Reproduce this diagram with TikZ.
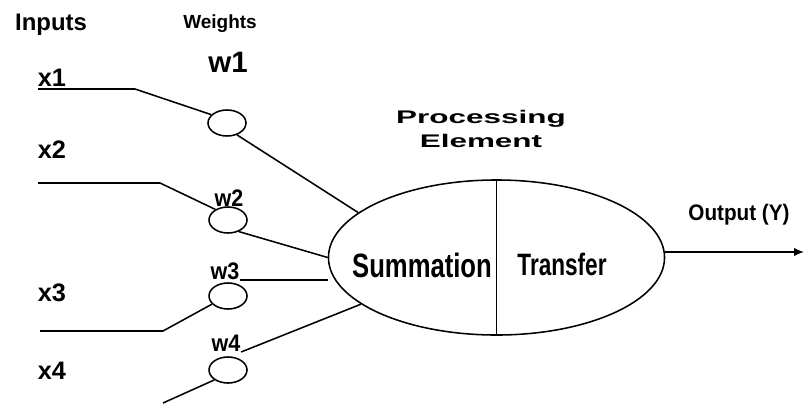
\documentclass[tikz,border=0pt]{standalone}
\usepackage{fontspec,graphicx}
\setmainfont{Liberation Sans}
\usetikzlibrary{shapes.geometric,arrows.meta}

\begin{document}
\begin{tikzpicture}[x=0.025cm,y=-0.025cm,line width=1.1pt,
  lbl/.style={inner sep=0pt,font=\bfseries\fontsize{#1}{#1}\selectfont},
  wt/.style={ellipse,draw,inner sep=0pt,minimum width=0.95cm,minimum height=0.65cm}]
\useasboundingbox (0,0) rectangle (804,403);
% column heads
\node[lbl=17] (inputs) at (51,25) {Inputs};
\node[lbl=13.5] (weights) at (220,24) {Weights};
% inputs and weights
\node[lbl=18] (x1) at (52,78) {x1}; \node[lbl=18] (x2) at (52,150) {x2};
\node[lbl=18] (x3) at (52,293) {x3}; \node[lbl=18] (x4) at (52,371) {x4};
\node[wt] (c1) at (227,123) {}; \node[wt] (c2) at (228,220) {};
\node[wt] (c3) at (228,296) {}; \node[wt] (c4) at (228,370) {};
\node[lbl=21] (w1) at (228,62) {w1};
\node[lbl=17] (w2) at (229,198) {\scalebox{.9}[1]{w2}};
\node[lbl=17] (w3) at (225,271) {\scalebox{.9}[1]{w3}};
\node[lbl=17] (w4) at (226,343) {\scalebox{.9}[1]{w4}};
% processing element
\node[ellipse,draw,minimum width=8.4cm,minimum height=3.875cm] (pe) at (496.5,257.5) {};
\draw (pe.north) -- (pe.south);
\node[lbl=24] (sum) at (422,265) {\scalebox{.76}[1]{Summation}};
\node[lbl=22] (tf) at (562,264) {\scalebox{.73}[1]{Transfer}};
\node[lbl=13,align=center] (title) at (481,129) {\scalebox{1.72}[1]{Processing}\\[4pt]\scalebox{1.72}[1]{Element}};
% wires
\coordinate (a1) at (38,89); \coordinate (b1) at (135,89);
\coordinate (a2) at (38,183); \coordinate (b2) at (160,183);
\coordinate (a3) at (40,331); \coordinate (b3) at (163,331);
\coordinate (a4) at (163,403);
\draw (a1) -- (b1) -- (c1.152);
\draw (a2) -- (b2) -- (c2.140);
\draw (a3) -- (b3) -- (c3.207);
\draw (a4) -- (c4.216);
\draw (c1.-50) -- (pe.162);
\draw (c2.-47) -- (pe.west);
\draw (w3.south east) -- (w3.south east -| pe.west);
\draw (w4.south east) -- (pe.199);
% output
\coordinate (out) at (804,252);
\draw[-{Latex[length=7pt,width=6pt]}] (pe.east |- out) -- (out);
\node[lbl=16] (y) at (739,215) {\scalebox{.92}[1]{Output (Y)}};
\end{tikzpicture}
\end{document}
